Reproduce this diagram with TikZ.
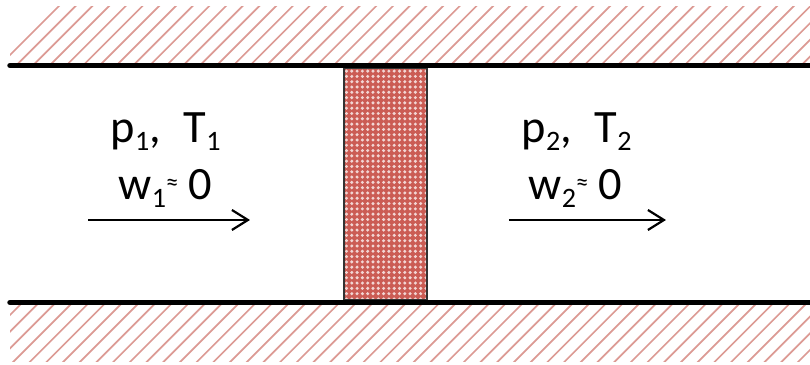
\documentclass[tikz,border=0pt]{standalone}
\usepackage{fontspec}
\setmainfont{Carlito}
\usepackage{xcolor}
\usetikzlibrary{arrows.meta}
\definecolor{hatchred}{HTML}{DC9A94}
\definecolor{plugred}{HTML}{CB5C54}
\tikzset{
  wall/.style={line width=0.055cm,black,line cap=round},
  hatchline/.style={line width=0.017cm,hatchred},
  flowarrow/.style={line width=0.02cm,-{Straight Barb[length=0.16cm,width=0.2cm,line width=0.022cm]}},
  statelabel/.style={font=\fontsize{13.2pt}{16pt}\selectfont,inner sep=0pt,anchor=base west},
}
\newcommand{\lowidx}[1]{\raisebox{-0.33ex}{\fontsize{8pt}{9pt}\selectfont #1}}
\newcommand{\approxsmall}{\raisebox{0.45ex}{\fontsize{7pt}{8pt}\selectfont ≈}}
\begin{document}
\begin{tikzpicture}
  \useasboundingbox (0,0) rectangle (8.1,3.65);
  % hatching above and below the duct
  \begin{scope}
    \clip (0.1,3.0) rectangle (8.1,3.58);
    \foreach \x in {0,0.167,...,9.0} {
      \draw[hatchline] (\x-0.8,2.2) -- (\x+0.8,3.8);
    }
  \end{scope}
  \begin{scope}
    \clip (0.1,0.03) rectangle (8.1,0.62);
    \foreach \x in {0,0.167,...,9.0} {
      \draw[hatchline] (\x-0.8,-0.4) -- (\x+0.8,1.2);
    }
  \end{scope}
  % porous plug
  \fill[plugred] (3.44,0.65) rectangle (4.27,2.97);
  \begin{scope}
    \clip (3.44,0.65) rectangle (4.27,2.97);
    \foreach \row in {0,...,44} {
      \foreach \col in {0,...,15} {
        \fill[white!75!plugred] (3.465+\col*0.053,0.66+\row*0.053) circle (0.017);
      }
    }
  \end{scope}
  \draw[line width=0.012cm,black!80] (3.44,0.65) rectangle (4.27,2.97);
  \draw[wall] (0.1,2.995) -- (8.1,2.995);
  \draw[wall] (0.1,0.625) -- (8.1,0.625);
  % states
  \node[statelabel] (stateL) at (1.1,2.22) {p\lowidx{1},\hspace{6.5pt}T\lowidx{1}};
  \node[statelabel] (speedL) at (1.18,1.65) {w\lowidx{1}\approxsmall\hspace{3pt}0};
  \node[statelabel] (stateR) at (5.21,2.22) {p\lowidx{2},\hspace{6.5pt}T\lowidx{2}};
  \node[statelabel] (speedR) at (5.28,1.65) {w\lowidx{2}\approxsmall\hspace{3pt}0};
  \coordinate (inA) at (0.88,1.45);
  \coordinate (inB) at (2.5,1.45);
  \coordinate (outA) at (5.09,1.45);
  \coordinate (outB) at (6.66,1.45);
  \draw[flowarrow] (inA) -- (inB);
  \draw[flowarrow] (outA) -- (outB);
\end{tikzpicture}
\end{document}
